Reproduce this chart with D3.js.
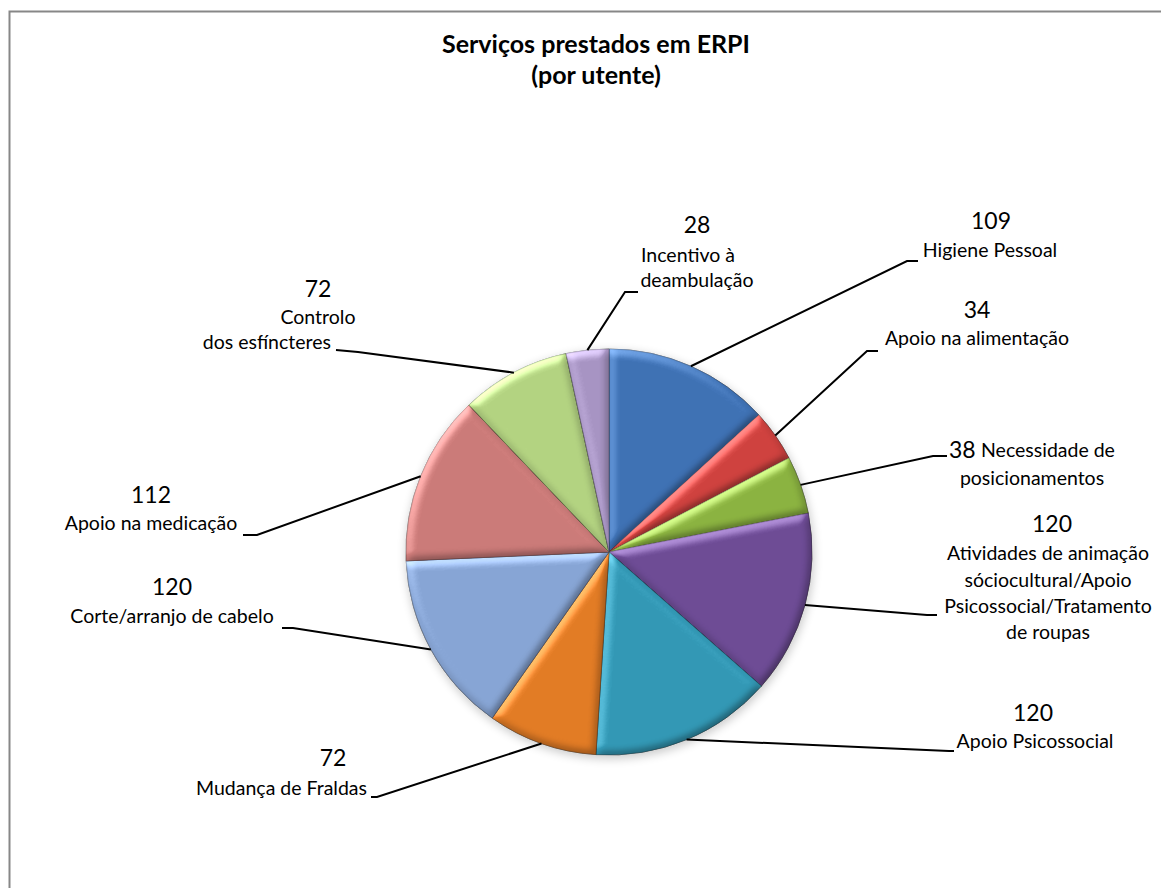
<!DOCTYPE html>
<html>
<head>
<meta charset="utf-8">
<script src="https://cdn.jsdelivr.net/npm/d3@7"></script>
<style>
  html, body { margin: 0; padding: 0; background: #fff; }
  svg { display: block; font-family: Lato, "Open Sans", sans-serif; }
</style>
</head>
<body>
<svg id="chart" width="1161" height="888"></svg>
<script>
// Services delivered per resident (ERPI)
const categories = [
  "Higiene Pessoal",
  "Apoio na alimentação",
  "Necessidade de posicionamentos",
  "Atividades de animação sóciocultural/Apoio Psicossocial/Tratamento de roupas",
  "Apoio Psicossocial",
  "Mudança de Fraldas",
  "Corte/arranjo de cabelo",
  "Apoio na medicação",
  "Controlo dos esfíncteres",
  "Incentivo à deambulação"
];
const values = [109, 34, 38, 120, 120, 72, 120, 112, 72, 28];
const colors = ["#3F72B5", "#D0423F", "#8CB441", "#6E4C96", "#3399B6",
                "#E37C25", "#88A6D6", "#CC7B79", "#B4D482", "#A895C4"];
const titleLines = ["Serviços prestados em ERPI", "(por utente)"];

// Label placement: value text, wrapped category lines, leader elbow points
const labelLayout = [
  { v: [991, 229, "middle"], lines: [["Higiene Pessoal", 990, 257]], elbow: [[907, 261], [918, 261]] },
  { v: [977, 318, "middle"], lines: [["Apoio na alimentação", 977, 345]], elbow: [[867, 351], [878, 351]] },
  { v: [949, 458, "start"], lines: [["Necessidade de", 981, 457, "start"], ["posicionamentos", 1032, 485]], elbow: [[933, 456], [947, 456]] },
  { v: [1052, 532, "middle"], lines: [["Atividades de animação", 1048, 560], ["sóciocultural/Apoio", 1048, 587], ["Psicossocial/Tratamento", 1048, 613], ["de roupas", 1048, 639]], elbow: [[927, 615], [937, 615]] },
  { v: [1033, 721, "middle"], lines: [["Apoio Psicossocial", 1035, 748]], elbow: [[949, 751], [954, 751]] },
  { v: [333, 766, "middle"], lines: [["Mudança de Fraldas", 367, 795, "end"]], elbow: [[377, 797], [371, 797]] },
  { v: [172, 595, "middle"], lines: [["Corte/arranjo de cabelo", 172, 623]], elbow: [[293, 628], [282, 628]] },
  { v: [151, 503, "middle"], lines: [["Apoio na medicação", 151, 530]], elbow: [[257, 535], [243, 535]] },
  { v: [318, 297, "middle"], lines: [["Controlo", 318, 324], ["dos esfíncteres", 331, 349, "end"]], elbow: [[358, 352], [336, 350]] },
  { v: [697, 233, "middle"], lines: [["Incentivo à", 688, 262], ["deambulação", 697, 287]], elbow: [[625, 292], [638, 292]] }
];

const svg = d3.select("#chart");
const cx = 609, cy = 552, R = 203;

// chart frame
svg.append("rect")
  .attr("x", 9.5).attr("y", 11.5)
  .attr("width", 1200).attr("height", 900)
  .attr("fill", "#fff")
  .attr("stroke", "#878787").attr("stroke-width", 2);

const defs = svg.append("defs");

// bevel: light the blurred slice outline from the upper left;
// lit edges get a highlight, edges facing away get a soft shade
const elev = 50, d0 = Math.sin(elev * Math.PI / 180);
const bevel = defs.append("filter").attr("id", "bevel")
  .attr("color-interpolation-filters", "sRGB")
  .attr("x", "-10%").attr("y", "-10%").attr("width", "120%").attr("height", "120%");
bevel.append("feGaussianBlur").attr("in", "SourceAlpha").attr("stdDeviation", 4).attr("result", "blur");
bevel.append("feDiffuseLighting").attr("in", "blur").attr("surfaceScale", 3.5)
  .attr("diffuseConstant", 1).attr("lighting-color", "#ffffff").attr("result", "light")
  .append("feDistantLight").attr("azimuth", 235).attr("elevation", elev);
// shade factor (<=1) where the rim faces away from the light
const shadeFn = bevel.append("feComponentTransfer").attr("in", "light").attr("result", "shade");
["feFuncR", "feFuncG", "feFuncB"].forEach(f =>
  shadeFn.append(f).attr("type", "linear").attr("slope", 0.65).attr("intercept", 1 - 0.65 * d0));
// additive highlight where the rim faces the light
const hiFn = bevel.append("feComponentTransfer").attr("in", "light").attr("result", "hi");
["feFuncR", "feFuncG", "feFuncB"].forEach(f =>
  hiFn.append(f).attr("type", "linear").attr("slope", 1.3).attr("intercept", -1.3 * d0));
bevel.append("feComposite").attr("in", "SourceGraphic").attr("in2", "shade")
  .attr("operator", "arithmetic").attr("k1", 1).attr("k2", 0).attr("k3", 0).attr("k4", 0)
  .attr("result", "shaded");
bevel.append("feComposite").attr("in", "shaded").attr("in2", "hi")
  .attr("operator", "arithmetic").attr("k1", 0).attr("k2", 1).attr("k3", 1).attr("k4", 0)
  .attr("result", "lit");
bevel.append("feComposite").attr("in", "lit").attr("in2", "SourceAlpha").attr("operator", "in");

// soft shadow under the pie
const shadow = defs.append("filter").attr("id", "shadow")
  .attr("x", "-20%").attr("y", "-20%").attr("width", "140%").attr("height", "140%");
shadow.append("feGaussianBlur").attr("stdDeviation", 5);

// title
svg.append("g").selectAll("text").data(titleLines).join("text")
  .attr("x", 596)
  .attr("y", (d, i) => 53 + i * 31)
  .attr("text-anchor", "middle")
  .attr("font-size", 25)
  .attr("font-weight", "bold")
  .attr("fill", "#000")
  .text(d => d);

const pie = d3.pie().value(d => d).sort(null);
const arcs = pie(values);
const arc = d3.arc().innerRadius(0).outerRadius(R);
const edgeArc = d3.arc().innerRadius(R).outerRadius(R);

const g = svg.append("g").attr("transform", `translate(${cx},${cy})`);

g.append("circle")
  .attr("cx", 1).attr("cy", 3).attr("r", R + 1)
  .attr("fill", "#000").attr("opacity", 0.2)
  .attr("filter", "url(#shadow)");

g.selectAll("path.slice").data(arcs).join("path")
  .attr("class", "slice")
  .attr("d", arc)
  .attr("fill", (d, i) => colors[i])
  .attr("stroke", (d, i) => d3.color(colors[i]).darker(0.9))
  .attr("stroke-width", 0.8)
  .attr("stroke-linejoin", "round")
  .attr("filter", "url(#bevel)");

// leader lines from the slice rim to each label
const line = d3.line();
svg.append("g").selectAll("path").data(arcs).join("path")
  .attr("d", (d, i) => {
    const [ex, ey] = edgeArc.centroid(d);
    const pts = [[cx + ex, cy + ey]].concat(labelLayout[i].elbow);
    return line(pts);
  })
  .attr("fill", "none")
  .attr("stroke", "#000")
  .attr("stroke-width", 2);

// data labels
const lg = svg.append("g").attr("fill", "#000");
arcs.forEach((d, i) => {
  const L = labelLayout[i];
  lg.append("text")
    .attr("x", L.v[0]).attr("y", L.v[1])
    .attr("text-anchor", L.v[2])
    .attr("font-size", 23)
    .text(values[i]);
  L.lines.forEach(l => {
    lg.append("text")
      .attr("x", l[1]).attr("y", l[2])
      .attr("text-anchor", l[3] || "middle")
      .attr("font-size", 19.5)
      .text(l[0]);
  });
});
</script>
</body>
</html>
